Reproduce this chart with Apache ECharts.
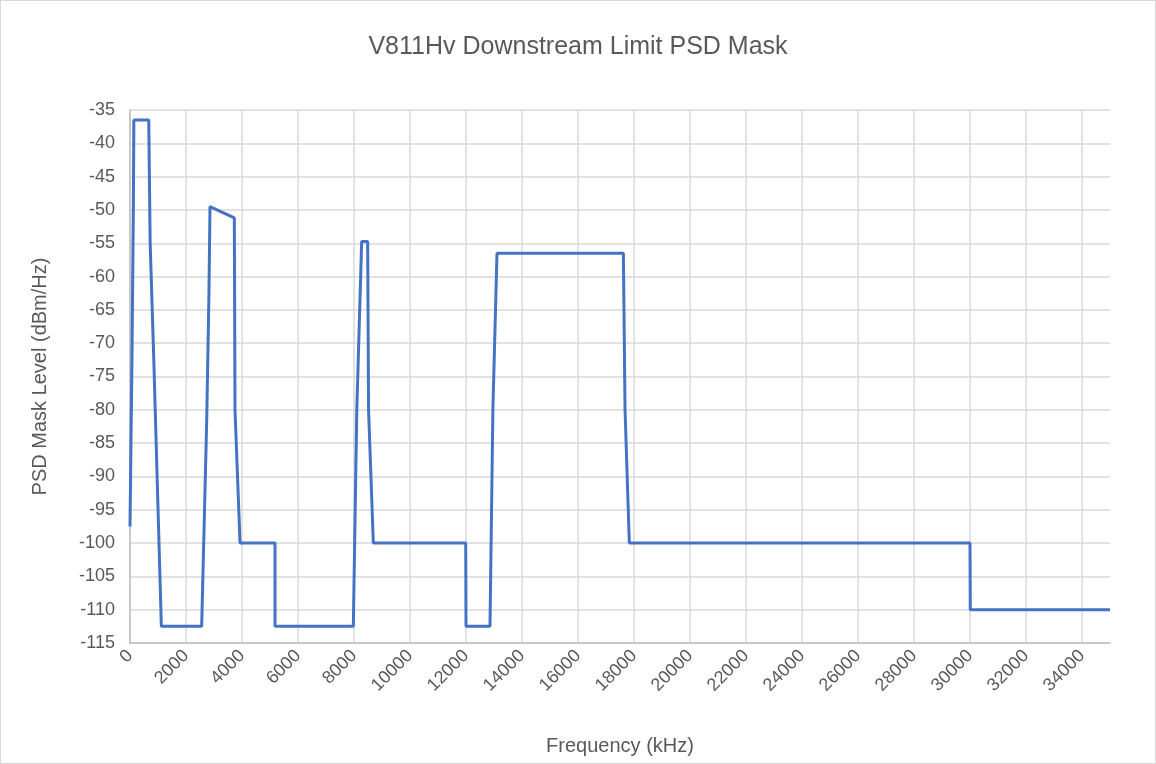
<!DOCTYPE html>
<html>
<head>
<meta charset="utf-8">
<script src="https://cdn.jsdelivr.net/npm/echarts@6/dist/echarts.min.js"></script>
<style>
  html, body { margin: 0; padding: 0; background: #fff; }
  #chart { width: 1154px; height: 762px; border: 1px solid #d9d9d9; }
</style>
</head>
<body>
<div id="chart"></div>
<script>
// PSD mask breakpoints: frequency (kHz) and level (dBm/Hz)
const freqs = [
  0, 70, 120, 138, 670, 720, 850, 1120,
  2560, 2740, 2820, 2857, 3726, 3750, 3930,
  5179, 5180, 7976, 8100, 8274, 8488, 8520, 8690,
  11990, 12000, 12857, 12960, 13107, 17620, 17680, 17833,
  30000, 30010, 35000
];
const levels = [
  -97.5, -72.5, -49.5, -36.5, -36.5, -55, -72.5, -112.5,
  -112.5, -81.5, -62.5, -49.5, -51.2, -80, -100,
  -100, -112.5, -112.5, -80, -54.75, -54.75, -80, -100,
  -100, -112.5, -112.5, -80, -56.5, -56.5, -80, -100,
  -100, -110, -110
];

const titleText = 'V811Hv Downstream Limit PSD Mask';
const xName = 'Frequency (kHz)';
const yName = 'PSD Mask Level (dBm/Hz)';

const points = freqs.map((f, i) => [f, levels[i]]);

const textColor = '#595959';
const fontFamily = 'Liberation Sans, Arial, sans-serif';

const chart = echarts.init(document.getElementById('chart'));
chart.setOption({
  animation: false,
  title: {
    text: titleText,
    left: 'center',
    top: 29,
    textStyle: { fontFamily, fontSize: 25, fontWeight: 'normal', color: textColor }
  },
  grid: { left: 129, top: 109, right: 45, bottom: 120 },
  xAxis: {
    type: 'value',
    min: 0,
    max: 35000,
    interval: 2000,
    name: xName,
    nameLocation: 'middle',
    nameGap: 93,
    nameTextStyle: { fontFamily, fontSize: 20, color: textColor },
    axisLine: { show: true, lineStyle: { color: '#bfbfbf', width: 1.5 } },
    axisTick: { show: false },
    axisLabel: {
      rotate: 45,
      showMaxLabel: false,
      margin: 10,
      formatter: v => String(v),
      fontFamily, fontSize: 18, color: textColor
    },
    splitLine: { show: true, showMaxLine: false, lineStyle: { color: '#d9d9d9', width: 1.5 } }
  },
  yAxis: {
    type: 'value',
    min: -115,
    max: -35,
    interval: 5,
    name: yName,
    nameLocation: 'middle',
    nameGap: 80,
    nameTextStyle: { fontFamily, fontSize: 20, color: textColor },
    axisLine: { show: true, lineStyle: { color: '#bfbfbf', width: 1.5 } },
    axisTick: { show: false },
    axisLabel: { margin: 15, fontFamily, fontSize: 18, color: textColor },
    splitLine: { show: true, lineStyle: { color: '#d9d9d9', width: 1.5 } }
  },
  series: [{
    type: 'line',
    data: points,
    showSymbol: false,
    lineStyle: { color: '#4472C4', width: 3 },
    itemStyle: { color: '#4472C4' }
  }]
});
</script>
</body>
</html>
